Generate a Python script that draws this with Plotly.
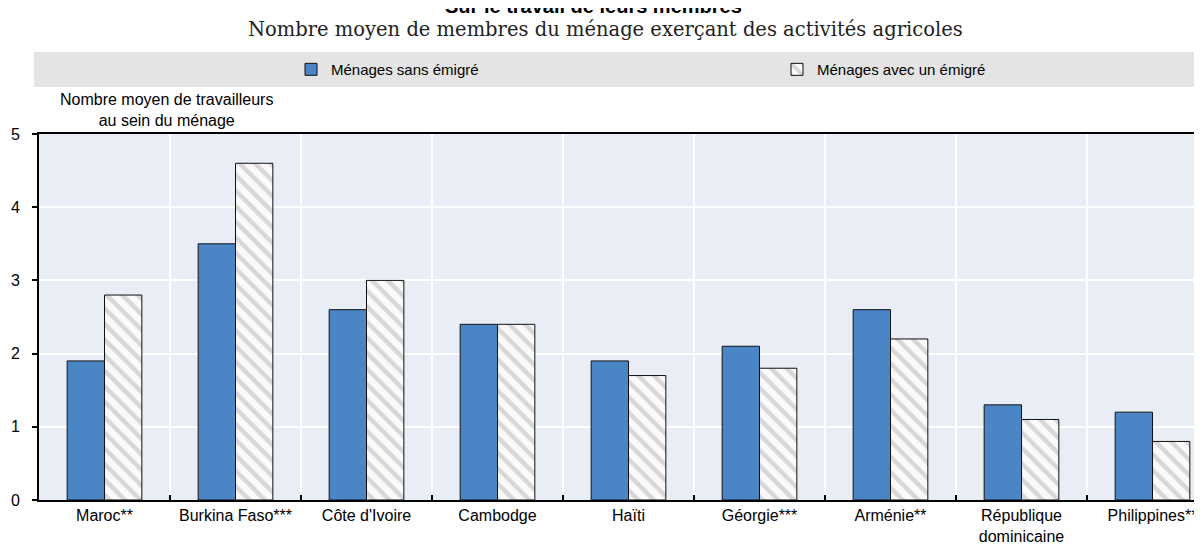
import plotly.graph_objects as go

categories = ["Maroc**", "Burkina Faso***", "Côte d'Ivoire", "Cambodge", "Haïti",
              "Géorgie***", "Arménie**", "République<br>dominicaine", "Philippines**"]
sans_emigre = [1.9, 3.5, 2.6, 2.4, 1.9, 2.1, 2.6, 1.3, 1.2]
avec_emigre = [2.8, 4.6, 3.0, 2.4, 1.7, 1.8, 2.2, 1.1, 0.8]
series_names = ["Ménages sans émigré", "Ménages avec un émigré"]
y_ticks = [0, 1, 2, 3, 4, 5]

# The page body adds a small margin; lay the figure out in page pixels and shift.
OFF = 7
W, H = 1202 - OFF, 545 - OFF
ML, MT = 38 - OFF, 133 - OFF
MB = H - (499.5 - OFF)
MR = 0
plot_w = W - ML - MR
plot_h = H - MT - MB
cat_px = 131.0

def py(page_y):
    return (H - MB - (page_y - OFF)) / plot_h

def px(page_x):
    return (page_x - OFF - ML) / plot_w

font_main = "Liberation Sans, Arial, sans-serif"

fig = go.Figure()
fig.add_trace(go.Bar(
    x=categories, y=sans_emigre, name=series_names[0], legend="legend",
    marker=dict(color="#4a86c6", line=dict(color="#111111", width=1)),
))
fig.add_trace(go.Bar(
    x=categories, y=avec_emigre, name=series_names[1], legend="legend2",
    marker=dict(color="#fafafa", line=dict(color="#111111", width=1),
                pattern=dict(shape="\\", fgcolor="#b4b4b4", bgcolor="#fafafa",
                             size=11, solidity=0.4)),
))

leg_common = dict(orientation="h", xanchor="left", yanchor="middle",
                  bgcolor="rgba(0,0,0,0)", borderwidth=0,
                  font=dict(family=font_main, size=15, color="#000"),
                  itemclick=False, itemdoubleclick=False)

fig.update_layout(
    width=W, height=H,
    margin=dict(l=ML, r=MR, t=MT, b=MB, pad=0),
    paper_bgcolor="white",
    plot_bgcolor="#e9edf5",
    barmode="group",
    bargap=0.43,
    bargroupgap=0,
    font=dict(family=font_main, size=15, color="#000000"),
    showlegend=True,
    legend=dict(x=px(290), y=py(68.5), **leg_common),
    legend2=dict(x=px(776), y=py(68.5), **leg_common),
    shapes=[dict(type="rect", xref="paper", yref="paper",
                 x0=px(33), x1=1.02, y0=py(86), y1=py(51),
                 fillcolor="#e4e4e4", line=dict(width=0), layer="below")],
    annotations=[
        dict(text="<b>Sur le travail de leurs membres</b>", xref="paper", yref="paper",
             x=px(592), y=py(5), xanchor="center", yanchor="middle", showarrow=False,
             font=dict(family="Liberation Sans, Arial, sans-serif", size=20, color="#000")),
        dict(text="Nombre moyen de membres du ménage exerçant des activités agricoles",
             xref="paper", yref="paper", x=px(604), y=py(28), xanchor="center",
             yanchor="middle", showarrow=False,
             font=dict(family="DejaVu Serif, serif", size=19.5, color="#222")),
        dict(text="Nombre moyen de travailleurs<br>au sein du ménage", xref="paper",
             yref="paper", x=px(165), y=py(109), xanchor="center", yanchor="middle",
             showarrow=False, align="center",
             font=dict(family=font_main, size=16, color="#000")),
    ],
)

fig.update_xaxes(
    type="category",
    range=[-0.5, -0.5 + plot_w / cat_px],
    tickson="boundaries",
    ticks="inside", ticklen=5, tickcolor="#000", tickwidth=1.5,
    showgrid=True, gridcolor="white", gridwidth=1.5,
    showline=True, linecolor="#000", linewidth=2, mirror=True,
    tickfont=dict(family=font_main, size=16, color="#000"),
    fixedrange=True,
)
fig.update_yaxes(
    range=[0, 5], tickvals=y_ticks,
    ticks="outside", ticklen=5, tickcolor="#000", tickwidth=1.5,
    showgrid=True, gridcolor="white", gridwidth=1.5,
    showline=True, linecolor="#000", linewidth=2,
    zeroline=False,
    tickfont=dict(family=font_main, size=16, color="#000"),
    ticklabelstandoff=9,
    fixedrange=True,
)

fig.write_html("out.html")
